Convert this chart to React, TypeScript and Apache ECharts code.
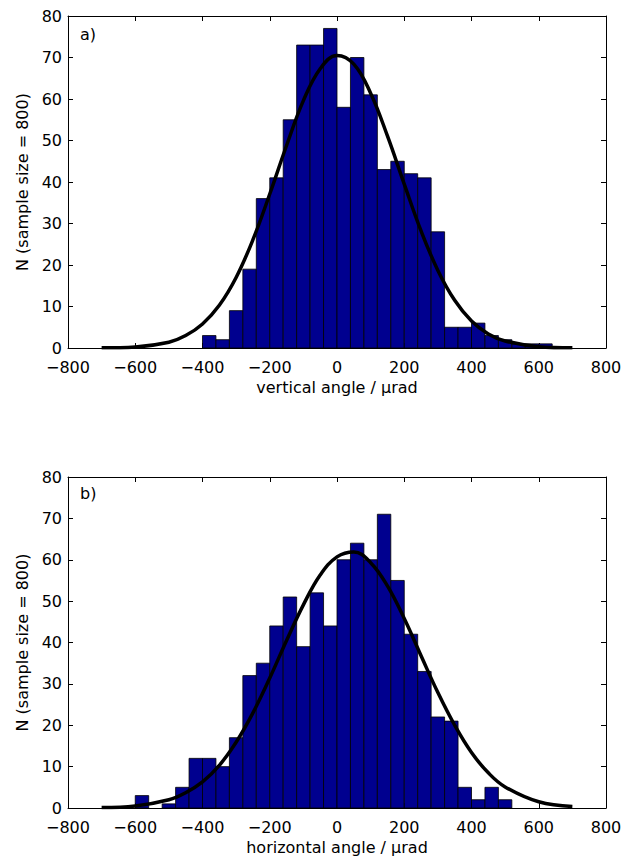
import React, { useEffect, useRef } from "react";
import * as echarts from "echarts";

// Histogram bin centres and counts (bin width 40 µrad)
const BIN_WIDTH = 40;
const vertCenters = [-380, -340, -300, -260, -220, -180, -140, -100, -60, -20, 20, 60, 100, 140, 180, 220, 260, 300, 340, 380, 420, 460, 500, 540, 580, 620];
const vertCounts = [3, 2, 9, 19, 36, 41, 55, 73, 73, 77, 58, 70, 61, 43, 45, 42, 41, 28, 5, 5, 6, 3, 2, 1, 1, 1];

const horizCenters = [-580, -540, -500, -460, -420, -380, -340, -300, -260, -220, -180, -140, -100, -60, -20, 20, 60, 100, 140, 180, 220, 260, 300, 340, 380, 420, 460, 500];
const horizCounts = [3, 0, 1, 5, 12, 12, 10, 17, 32, 35, 44, 51, 39, 52, 44, 60, 64, 60, 71, 55, 42, 33, 22, 21, 5, 2, 5, 2];

// Fitted normal curves
const curveX = [-700, -600, -500, -450, -400, -350, -300, -250, -200, -150, -100, -50, 0, 50, 100, 150, 200, 250, 300, 350, 400, 450, 500, 600, 700];
const vertCurveY = [0.04, 0.26, 1.4, 3.0, 5.8, 10.3, 17.0, 26.1, 37.1, 48.8, 59.6, 67.3, 70.5, 68.4, 61.4, 51.1, 39.5, 28.2, 18.7, 11.5, 6.5, 3.4, 1.7, 0.32, 0.04];
const horizCurveY = [0.1, 0.5, 2.0, 3.7, 6.3, 10.3, 15.9, 23.0, 31.4, 40.5, 49.1, 56.3, 60.7, 61.9, 59.3, 53.7, 45.8, 36.8, 27.9, 20.0, 13.4, 8.5, 5.1, 1.5, 0.37];

const xTicks = { min: -800, max: 800, interval: 200 };
const yTicks = { min: 0, max: 80, interval: 10 };

const FONT = "DejaVu Sans";
const BAR_COLOR = "#00008F";

function fmtMinus(v: number) {
  return v < 0 ? "\u2212" + Math.abs(v) : String(v);
}

function histItem(params: any, api: any) {
  const c = api.value(0);
  const n = api.value(1);
  if (!n) return { type: "group", children: [] };
  const p0 = api.coord([c - BIN_WIDTH / 2, n]);
  const p1 = api.coord([c + BIN_WIDTH / 2, 0]);
  return {
    type: "rect",
    shape: { x: p0[0], y: p0[1], width: p1[0] - p0[0], height: p1[1] - p0[1] },
    style: { fill: BAR_COLOR, stroke: "#000", lineWidth: 0.8 },
  };
}

export default function App() {
  const ref = useRef<HTMLDivElement>(null);
  useEffect(() => {
    if (!ref.current) return;
    const chart = echarts.init(ref.current, undefined, { renderer: "svg" });
    const grids = [
      { left: 68, right: 25, top: 16, height: 332 },
      { left: 68, right: 25, top: 477, height: 331 },
    ];
    const axisLine = { show: true, onZero: false, lineStyle: { color: "#000", width: 1 } };
    const axisTick = { show: true, inside: true, length: 5, lineStyle: { color: "#000", width: 1 } };
    const labelStyle = { color: "#000", fontFamily: FONT, fontSize: 16 };
    const names = ["vertical angle / \u03bcrad", "horizontal angle / \u03bcrad"];
    const xAxis: any[] = [];
    const yAxis: any[] = [];
    [0, 1].forEach((g) => {
      xAxis.push({
        type: "value", gridIndex: g, position: "bottom", ...xTicks,
        axisLine, axisTick, splitLine: { show: false },
        axisLabel: { ...labelStyle, lineHeight: 16, margin: 11, formatter: fmtMinus },
        name: names[g], nameLocation: "middle", nameGap: 31,
        nameTextStyle: { ...labelStyle },
      });
      xAxis.push({
        type: "value", gridIndex: g, position: "top", ...xTicks,
        axisLine, axisTick, splitLine: { show: false }, axisLabel: { show: false },
      });
      yAxis.push({
        type: "value", gridIndex: g, position: "left", ...yTicks,
        axisLine, axisTick, splitLine: { show: false },
        axisLabel: { ...labelStyle, lineHeight: 14, margin: 6 },
        name: "N (sample size = 800)", nameLocation: "middle", nameGap: 38,
        nameTextStyle: { ...labelStyle },
      });
      yAxis.push({
        type: "value", gridIndex: g, position: "right", ...yTicks,
        axisLine, axisTick, splitLine: { show: false }, axisLabel: { show: false },
      });
    });
    const histData = (cs: number[], ns: number[]) => cs.map((c, i) => [c, ns[i]]);
    const curveData = (ys: number[]) => curveX.map((x, i) => [x, ys[i]]);
    chart.setOption({
      animation: false,
      backgroundColor: "#fff",
      grid: grids,
      xAxis,
      yAxis,
      graphic: [
        { type: "text", left: 80, top: 26, style: { text: "a)", fill: "#000", font: `16px "${FONT}"` } },
        { type: "text", left: 80, top: 485, style: { text: "b)", fill: "#000", font: `16px "${FONT}"` } },
      ],
      series: [
        {
          type: "custom", xAxisIndex: 0, yAxisIndex: 0, renderItem: histItem,
          encode: { x: 0, y: 1 }, data: histData(vertCenters, vertCounts), z: 2,
        },
        {
          type: "line", xAxisIndex: 0, yAxisIndex: 0, data: curveData(vertCurveY), smooth: 0.4,
          showSymbol: false, lineStyle: { color: "#000", width: 3.5 }, z: 3,
        },
        {
          type: "custom", xAxisIndex: 2, yAxisIndex: 2, renderItem: histItem,
          encode: { x: 0, y: 1 }, data: histData(horizCenters, horizCounts), z: 2,
        },
        {
          type: "line", xAxisIndex: 2, yAxisIndex: 2, data: curveData(horizCurveY), smooth: 0.4,
          showSymbol: false, lineStyle: { color: "#000", width: 3.5 }, z: 3,
        },
      ],
    });
    return () => chart.dispose();
  }, []);
  return (
    <div
      ref={ref}
      style={{ position: "absolute", left: 0, top: 0, width: 631, height: 858, background: "#fff" }}
    />
  );
}
